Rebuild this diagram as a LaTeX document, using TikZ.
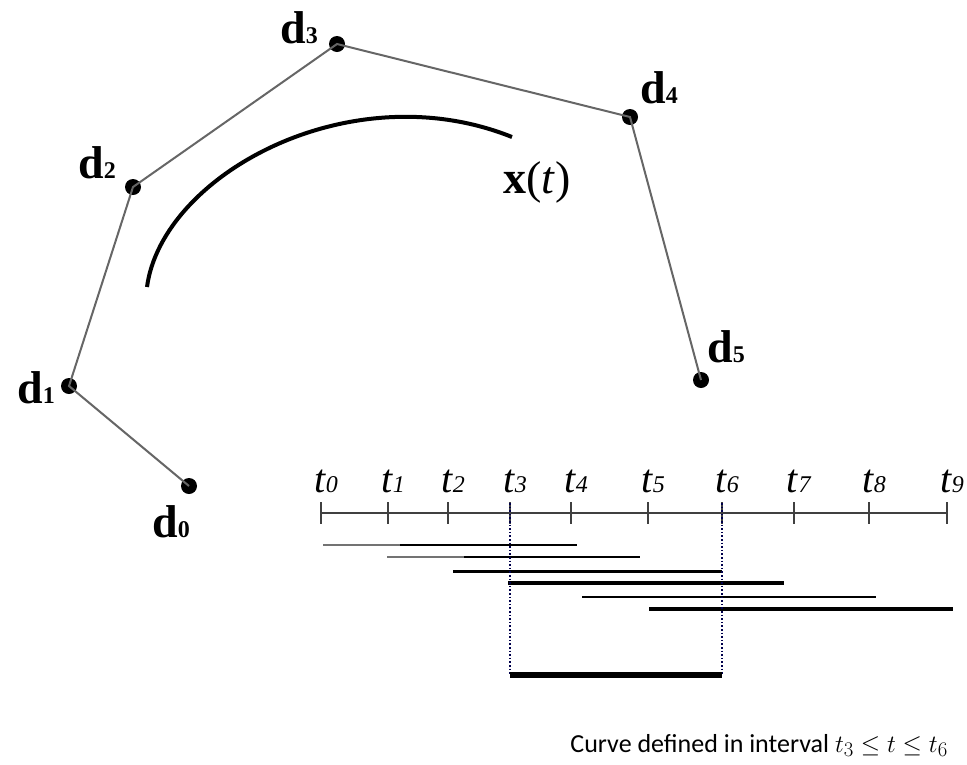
\documentclass[tikz,border=0pt]{standalone}
\usepackage{fontspec}
\setmainfont{Liberation Serif}
\newfontfamily\capfont{Carlito}
\newcommand{\dsub}[1]{d{\fontsize{24}{26}\selectfont #1}}
\newcommand{\tsub}[1]{\textit{t}{\fontsize{24}{26}\selectfont\textit{#1}}}
\begin{document}
\begin{tikzpicture}[x=1pt,y=-1pt,
  ctrl/.style={circle,fill=black,inner sep=0pt,minimum size=16pt},
  poly/.style={draw=black!60,line width=2pt},
  dlab/.style={font=\fontsize{46}{48}\selectfont\bfseries,inner sep=0pt,anchor=base west},
  tlab/.style={font=\fontsize{40}{42}\selectfont,inner sep=0pt,anchor=base},
  tick/.style={draw=black!75,line width=2pt},
  bar/.style={draw=black},
  guide/.style={draw=black!70!blue,line width=1.6pt,dotted}]
\useasboundingbox (0,0) rectangle (967,764);
% control points
\node[ctrl] (d0) at (189,486) {};
\node[ctrl] (d1) at (69,386) {};
\node[ctrl] (d2) at (133,187) {};
\node[ctrl] (d3) at (337,44) {};
\node[ctrl] (d4) at (630,117) {};
\node[ctrl] (d5) at (701,380) {};
\draw[poly] (d0.center) -- (d1.center) -- (d2.center) -- (d3.center) -- (d4.center) -- (d5.center);
\node[dlab] (l0) at (152,537) {\dsub{0}};
\node[dlab] (l1) at (17,403) {\dsub{1}};
\node[dlab] (l2) at (78,178) {\dsub{2}};
\node[dlab] (l3) at (280,43) {\dsub{3}};
\node[dlab] (l4) at (640,103) {\dsub{4}};
\node[dlab] (l5) at (707,362) {\dsub{5}};
% curve
\coordinate (cs) at (147,287);
\coordinate (ce) at (512,137);
\draw[line width=4pt] (cs) .. controls (162,175) and (350,72) .. (ce);
\node[dlab] (xt) at (503,193) {x\textmd{(\textit{t})}};
% axis
\coordinate (a0) at (321,513);
\coordinate (a9) at (947,513);
\draw[tick] (a0) -- (a9);
\foreach \i/\x in {0/321,1/388,2/448,3/510,4/571,5/648,6/722,7/794,8/869,9/947}{
  \coordinate (k\i) at (\x,513);
  \draw[tick] (\x,502) -- (\x,524);
  \node[tlab] (t\i) at (\x+5,492) {\tsub{\i}};
}
% basis function supports
\draw[bar,draw=black!55,line width=1.4pt] (323,545) -- (400,545);
\draw[bar,line width=1.8pt] (400,545) -- (577,545);
\draw[bar,draw=black!55,line width=1.6pt] (387,557) -- (464,557);
\draw[bar,line width=2pt] (464,557) -- (640,557);
\draw[bar,line width=3pt] (453,571) -- (722,571);
\draw[bar,line width=3.4pt] (508,583) -- (784,583);
\draw[bar,line width=2.2pt] (582,597) -- (876,597);
\draw[bar,line width=3.4pt] (649,609) -- (953,609);
% guides
\coordinate (g3a) at (510,503);
\coordinate (g3b) at (510,675);
\coordinate (g6a) at (722,503);
\coordinate (g6b) at (722,675);
\draw[guide] (g3a) -- (g3b);
\draw[guide] (g6a) -- (g6b);
\draw[line width=6pt] (g3b) -- (g6b);
% caption
\node[anchor=base east,inner sep=0pt,font=\capfont\fontsize{26}{30}\selectfont] (cap) at (948,752)
  {Curve defined in interval {\fontsize{30}{32}\selectfont$t_3 \leq t \leq t_6$}};
\end{tikzpicture}
\end{document}
